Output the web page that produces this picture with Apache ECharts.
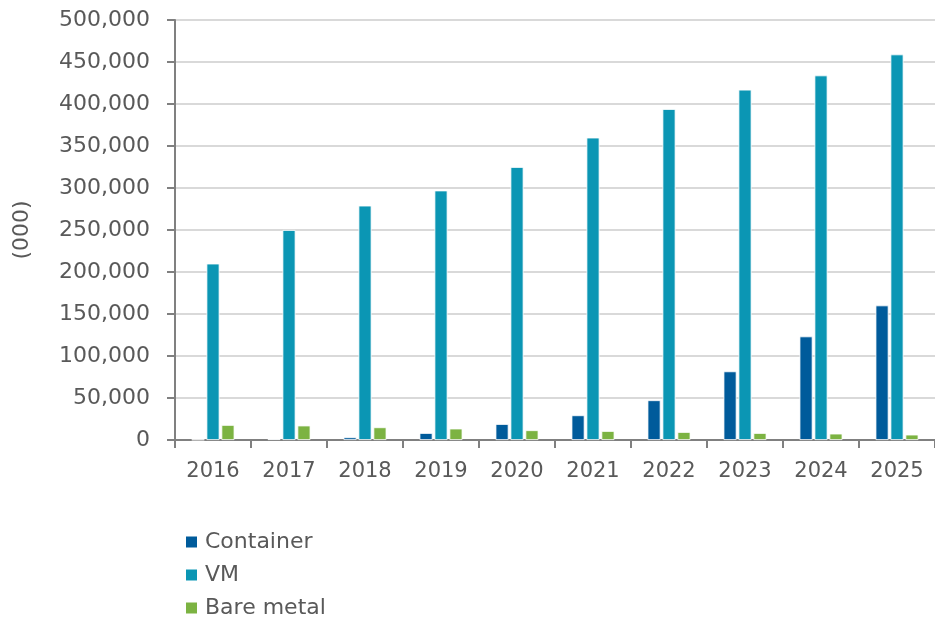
<!DOCTYPE html>
<html><head><meta charset="utf-8">
<script src="https://cdn.jsdelivr.net/npm/echarts@6/dist/echarts.min.js"></script>
<style>html,body{margin:0;padding:0;background:#fff}#c{width:935px;height:620px}</style>
</head><body><div id="c"></div>
<script>
const years = ['2016','2017','2018','2019','2020','2021','2022','2023','2024','2025'];
const container = [500, 1200, 3200, 8300, 19000, 29400, 47300, 81700, 123300, 160200];
const vm = [210000, 250000, 279000, 297000, 325000, 360000, 394000, 417000, 434000, 459000];
const bareMetal = [17900, 17200, 15100, 13600, 11600, 10700, 9500, 8300, 7600, 6400];

const FONT = 'DejaVu Sans';
const TXT = '#595959';
const chart = echarts.init(document.getElementById('c'));
const bar = (name, data, color) => ({
  name, type: 'bar', data, barWidth: 13, barGap: '15%',
  itemStyle: { color, borderColor: '#ffffff', borderWidth: 0.8 }
});
chart.setOption({
  animation: false,
  grid: { left: 175, right: -7, top: 20, bottom: 180, containLabel: false },
  legend: {
    orient: 'vertical', left: 186, top: 531, padding: 0,
    itemWidth: 11, itemHeight: 11, itemGap: 11,
    icon: 'rect', height: 100,
    itemStyle: { borderWidth: 0 },
    textStyle: { fontFamily: FONT, fontSize: 22, lineHeight: 22, color: TXT, padding: [0, 0, 0, 3] },
    data: ['Container', 'VM', 'Bare metal']
  },
  xAxis: {
    type: 'category', data: years,
    axisLine: { lineStyle: { color: '#808080', width: 2 } },
    axisTick: { show: true, length: 8, lineStyle: { color: '#808080', width: 2 } },
    axisLabel: { fontFamily: FONT, fontSize: 21, color: TXT, margin: 21 }
  },
  yAxis: {
    type: 'value', min: 0, max: 500000, interval: 50000,
    name: '(000)', nameLocation: 'middle', nameGap: 142, nameRotate: 90,
    nameTextStyle: { fontFamily: FONT, fontSize: 22, color: TXT },
    axisLine: { show: true, lineStyle: { color: '#808080', width: 2 } },
    axisTick: { show: true, length: 8, lineStyle: { color: '#808080', width: 2 } },
    axisLabel: { fontFamily: FONT, fontSize: 22, color: TXT, margin: 25,
      formatter: v => v.toLocaleString('en-US') },
    splitLine: { lineStyle: { color: '#CCCCCC', width: 1.5 } }
  },
  series: [
    bar('Container', container, '#005B9B'),
    bar('VM', vm, '#0B96B4'),
    bar('Bare metal', bareMetal, '#7CB342')
  ]
});
</script></body></html>
